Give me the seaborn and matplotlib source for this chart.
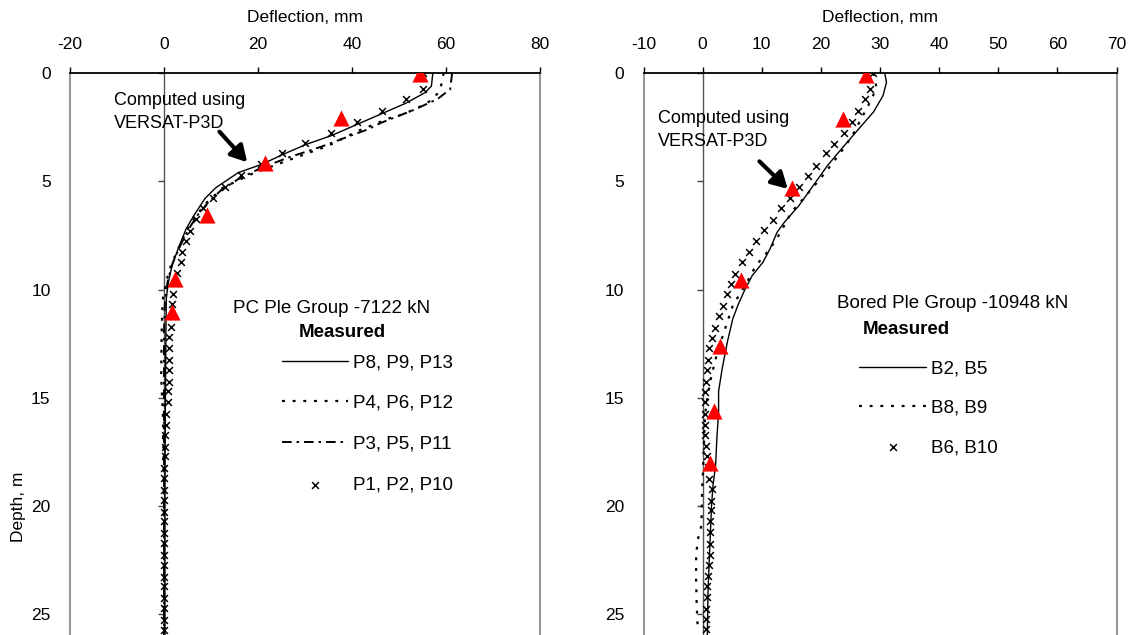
import pandas as pd
import seaborn as sns
import matplotlib.pyplot as plt

# ---------------- PC pile group (left panel) ----------------
pc_solid_depth = [0, 0.6, 0.9, 1.4, 1.9, 2.4, 2.9, 3.3, 3.8, 4.2, 4.6, 5.3, 5.8, 6.6, 7.2,
                  8.0, 8.9, 9.7, 10.4, 12, 15, 20, 26]
pc_solid_defl = [57.2, 56.9, 55.6, 51.4, 46.1, 40.8, 35.5, 30.2, 24.9, 21.0, 15.8, 11.0, 8.7,
                 6.3, 4.7, 3.2, 1.7, 0.9, 0.5, 0.4, 0.3, 0.2, 0.2]

pc_dot_depth = [0, 0.55, 0.95, 1.4, 1.9, 2.1, 2.7, 3.25, 3.45, 4.0, 4.65, 5.3, 6.0, 6.6, 7.2,
                8.0, 8.8, 9.6, 10.5, 12, 14, 16, 20, 26]
pc_dot_defl = [59.5, 59.0, 58.2, 56.0, 51.0, 47.8, 41.0, 36.0, 33.8, 26.8, 18.8, 12.5, 9.0,
               6.8, 5.0, 3.3, 1.6, 0.5, -0.3, -0.5, -0.6, -0.2, 0.0, 0.0]

pc_dashdot_depth = [0, 0.75, 1.2, 1.7, 2.3, 2.6, 3.0, 3.4, 3.9, 4.4, 4.9, 5.4, 6.0, 6.6, 7.3,
                    8.0, 8.8, 9.6, 10.5, 12, 15, 20, 26]
pc_dashdot_defl = [61.3, 60.9, 58.2, 53.2, 46.2, 43.4, 38.4, 33.5, 26.5, 20.5, 15.8, 12.2, 9.3,
                   7.0, 5.0, 3.4, 1.8, 0.8, 0.2, 0.0, 0.0, 0.0, 0.0]

pc_cross_depth = [0.0, 0.74, 1.2, 1.74, 2.25, 2.78, 3.23, 3.7, 4.2, 4.69, 5.28, 5.77, 6.23,
                  6.74, 7.28, 7.77, 8.25, 8.74, 9.23, 9.7, 10.2, 10.66, 11.2, 11.74, 12.2,
                  12.7, 13.25, 13.7, 14.25, 14.7, 15.2, 15.74, 16.25, 16.7, 17.25, 17.7,
                  18.25, 18.7, 19.25, 19.7, 20.25, 20.7, 21.25, 21.7, 22.25, 22.7, 23.25,
                  23.7, 24.25, 24.7, 25.25, 25.7]
pc_cross_defl = [55.1, 55.1, 51.5, 46.3, 41.0, 35.6, 30.1, 25.2, 20.6, 16.3, 12.9, 10.5, 8.4,
                 6.9, 5.5, 4.6, 3.8, 3.6, 2.8, 2.3, 1.9, 1.7, 1.6, 1.5, 1.1, 1.0, 1.0, 1.0,
                 1.0, 0.9, 0.9, 0.4, 0.4, 0.3, 0.3, 0.2, 0.1, 0.1, 0.1, 0.1, 0.0, 0.1, 0.1,
                 0.0, 0.0, 0.1, 0.0, 0.0, 0.0, 0.0, 0.0, 0.0]

pc_meas_depth = [0.05, 2.1, 4.15, 6.55, 9.5, 11.05]
pc_meas_defl = [54.5, 37.6, 21.4, 9.2, 2.4, 1.7]

pc_labels = ["P8, P9, P13", "P4, P6, P12", "P3, P5, P11", "P1, P2, P10"]

# ---------------- Bored pile group (right panel) ----------------
bp_solid_depth = [0, 0.43, 1.05, 1.8, 2.74, 3.5, 4.28, 5.2, 6.12, 6.9, 7.35, 8.12, 8.74, 9.35,
                  9.97, 10.7, 11.35, 12.4, 13.66, 14.7, 15.66, 16.9, 18.1, 19.05, 20, 22, 24, 26]
bp_solid_defl = [30.8, 31.1, 30.5, 28.9, 25.9, 23.5, 21.1, 18.7, 16.3, 13.8, 12.6, 11.4, 10.2,
                 8.4, 7.2, 6.0, 5.1, 4.2, 3.3, 2.7, 2.7, 2.4, 2.2, 1.75, 1.5, 1.2, 0.9, 0.8]

bp_dot_depth = [0, 0.66, 1.2, 1.97, 2.9, 3.5, 4.58, 5.66, 6.43, 7.35, 8.12, 8.9, 9.66, 10.74,
                11.97, 13.0, 13.97, 14.9, 15.8, 16.9, 18.1, 19.35, 20.9, 21.4, 22.2, 23.4,
                24.6, 25.8]
bp_dot_defl = [28.9, 29.4, 28.6, 27.1, 25.3, 23.8, 20.8, 17.5, 15.0, 13.2, 11.4, 9.0, 7.5,
               5.1, 3.6, 2.4, 1.5, 0.85, 0.4, 0.25, 0.1, -0.1, -0.2, -0.7, -1.1, -1.1,
               -1.0, -0.8]

bp_cross_depth = [0, 0.74, 1.2, 1.77, 2.25, 2.78, 3.28, 3.71, 4.28, 4.74, 5.28, 5.77, 6.23,
                  6.77, 7.23, 7.77, 8.25, 8.74, 9.28, 9.74, 10.2, 10.74, 11.23, 11.78, 12.25,
                  12.7, 13.25, 13.71, 14.25, 14.74, 15.2, 15.74, 16.25, 16.7, 17.2, 17.7,
                  18.2, 18.74, 19.2, 19.74, 20.2, 20.7, 21.2, 21.74, 22.25, 22.74, 23.23,
                  23.69, 24.2, 24.74, 25.2, 25.66]
bp_cross_defl = [28.8, 28.3, 27.5, 26.3, 25.2, 23.9, 22.3, 20.8, 19.2, 17.8, 16.3, 14.7, 13.2,
                 11.9, 10.4, 9.1, 7.9, 6.7, 5.5, 4.8, 4.2, 3.4, 2.7, 2.1, 1.6, 1.1, 0.85,
                 0.7, 0.5, 0.4, 0.4, 0.4, 0.4, 0.4, 0.5, 0.7, 0.9, 1.1, 1.6, 1.5, 1.4, 1.3,
                 1.3, 1.3, 1.2, 1.0, 0.9, 0.8, 0.7, 0.65, 0.65, 0.65]

bp_meas_depth = [0.09, 2.12, 5.32, 9.54, 12.6, 15.6, 17.99]
bp_meas_defl = [27.6, 23.8, 15.2, 6.5, 3.0, 2.0, 1.2]

bp_labels = ["B2, B5", "B8, B9", "B6, B10"]

depth_ticks = [0, 5, 10, 15, 20, 25]

sns.set_style("white")
plt.rcParams['font.family'] = ['Liberation Sans', 'DejaVu Sans']
plt.rcParams['axes.unicode_minus'] = False
for key in ['text.color', 'axes.labelcolor', 'xtick.color', 'ytick.color']:
    plt.rcParams[key] = 'black'

DOTTED = (0, (1.3, 3.5))
DASHDOT = (0, (5, 2.5, 1.3, 2.5))
FS = 12.5
LFS = 13.5

fig = plt.figure(figsize=(11.28, 6.35), dpi=100)
ax1 = fig.add_axes([70 / 1128, 0, 470 / 1128, 562 / 635])
ax2 = fig.add_axes([643.5 / 1128, 0, 473 / 1128, 562 / 635])


def style_panel(ax, xlim, xticks):
    ax.set_xlim(xlim)
    ax.set_ylim(25.95, 0)
    ax.xaxis.tick_top()
    ax.xaxis.set_label_position('top')
    ax.set_xticks(xticks)
    ax.set_yticks(depth_ticks)
    ax.tick_params(axis='x', direction='out', length=4.3, width=1, pad=11,
                   labelsize=FS, colors='k')
    ax.tick_params(axis='y', length=0, pad=14, labelsize=FS, colors='k')
    ax.spines['bottom'].set_visible(False)
    for s in ['left', 'right']:
        ax.spines[s].set_color('#999999')
        ax.spines[s].set_linewidth(1.5)
    ax.spines['top'].set_color('black')
    ax.spines['top'].set_linewidth(1.3)
    ax.set_xlabel('Deflection, mm', fontsize=FS)
    ax.xaxis.set_label_coords(0.5, 1.099)
    ax.xaxis.label.set_va('center')
    ax.set_ylabel('')
    # value axis crossing at zero deflection
    zero = (0 - xlim[0]) / (xlim[1] - xlim[0])
    sec = ax.secondary_yaxis(zero)
    sec.set_yticks(depth_ticks)
    sec.tick_params(length=4.3, width=1, direction='out', labelleft=False, color='#444444')
    sec.spines['left'].set_color('#555555')
    sec.spines['left'].set_linewidth(1)


def draw_line(ax, defl, depth, ls, lw):
    df = pd.DataFrame({'defl': defl, 'depth': depth})
    sns.lineplot(data=df, x='defl', y='depth', sort=False, estimator=None,
                 color='black', lw=lw, linestyle=ls, ax=ax)
    return ax.lines[-1]


def draw_cross(ax, defl, depth):
    df = pd.DataFrame({'defl': defl, 'depth': depth})
    sns.scatterplot(data=df, x='defl', y='depth', marker='x', color='black',
                    s=24, linewidth=1.1, ax=ax, zorder=3)
    return ax.collections[-1]


def draw_measured(ax, defl, depth):
    df = pd.DataFrame({'defl': defl, 'depth': depth})
    sns.scatterplot(data=df, x='defl', y='depth', marker='^', color='#ff0000',
                    s=135, linewidth=0, ax=ax, zorder=5)


# ---- left panel ----
h1 = draw_line(ax1, pc_solid_defl, pc_solid_depth, '-', 1.0)
h2 = draw_line(ax1, pc_dot_defl, pc_dot_depth, DOTTED, 1.6)
h3 = draw_line(ax1, pc_dashdot_defl, pc_dashdot_depth, DASHDOT, 1.4)
h4 = draw_cross(ax1, pc_cross_defl, pc_cross_depth)
draw_measured(ax1, pc_meas_defl, pc_meas_depth)
style_panel(ax1, (-20, 80), [-20, 0, 20, 40, 60, 80])

ax1.text(-10.7, 1.8, "Computed using\nVERSAT-P3D", fontsize=13, va='center',
         ha='left', linespacing=1.45)
ax1.annotate('', xy=(17.7, 4.12), xytext=(11.8, 2.71),
             arrowprops=dict(arrowstyle='-|>,head_length=0.8,head_width=0.45',
                             lw=3, color='black', mutation_scale=12,
                             shrinkA=0, shrinkB=0))
ax1.text(14.7, 10.86, "PC Ple Group -7122 kN", fontsize=LFS, va='center', ha='left')
ax1.text(37.9, 12.0, "Measured", fontsize=LFS, fontweight='bold', va='center', ha='center')
ax1.legend([h1, h2, h3, h4], pc_labels, loc='upper left',
           bbox_to_anchor=(0.452, 1 - 12.98 / 25.95), frameon=False, fontsize=LFS,
           borderpad=0, borderaxespad=0, handlelength=3.48, handletextpad=0.28,
           labelspacing=1.26, scatterpoints=1)

# ---- right panel ----
g1 = draw_line(ax2, bp_solid_defl, bp_solid_depth, '-', 1.0)
g2 = draw_line(ax2, bp_dot_defl, bp_dot_depth, DOTTED, 1.6)
g3 = draw_cross(ax2, bp_cross_defl, bp_cross_depth)
draw_measured(ax2, bp_meas_defl, bp_meas_depth)
style_panel(ax2, (-10, 70), [-10, 0, 10, 20, 30, 40, 50, 60, 70])

ax2.text(-7.6, 2.62, "Computed using\nVERSAT-P3D", fontsize=13, va='center',
         ha='left', linespacing=1.45)
ax2.annotate('', xy=(14.4, 5.35), xytext=(9.6, 4.08),
             arrowprops=dict(arrowstyle='-|>,head_length=0.8,head_width=0.45',
                             lw=3, color='black', mutation_scale=12,
                             shrinkA=0, shrinkB=0))
ax2.text(22.8, 10.66, "Bored Ple Group -10948 kN", fontsize=LFS, va='center', ha='left')
ax2.text(34.4, 11.85, "Measured", fontsize=LFS, fontweight='bold', va='center', ha='center')
ax2.legend([g1, g2, g3], bp_labels, loc='upper left',
           bbox_to_anchor=((26.5 + 10) / 80, 1 - 13.27 / 25.95), frameon=False,
           fontsize=LFS, borderpad=0, borderaxespad=0, handlelength=3.56,
           handletextpad=0.25, labelspacing=1.19, scatterpoints=1)

fig.text(19 / 1128, 1 - 507 / 635, "Depth, m", rotation=90, ha='center', va='center',
         fontsize=FS)

plt.savefig("out.png", dpi=100)
plt.close()
